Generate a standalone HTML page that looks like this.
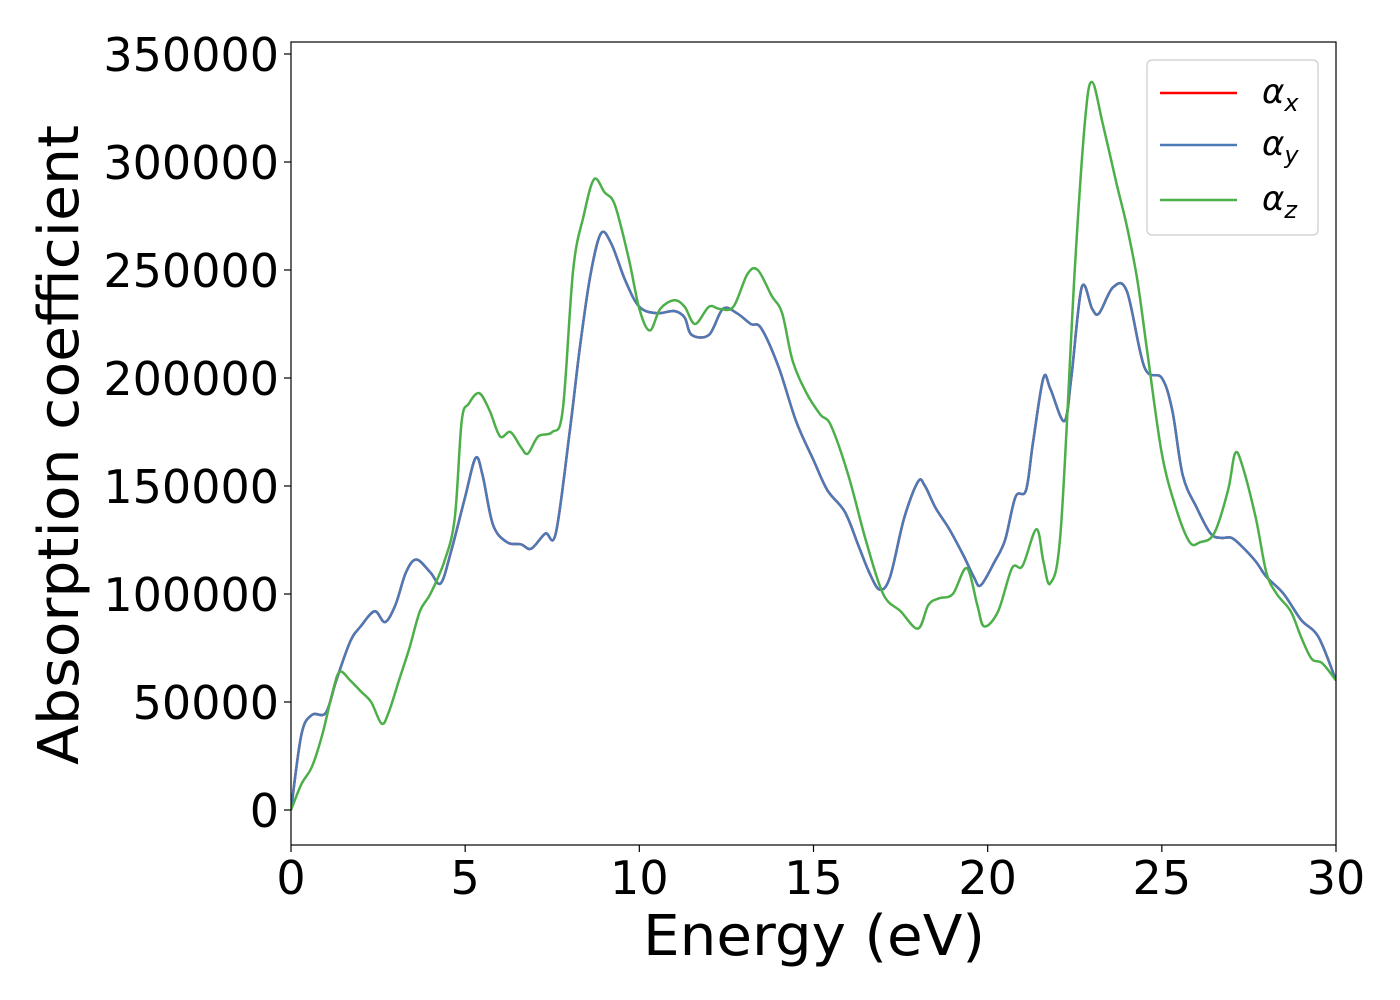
<!DOCTYPE html>
<html><head><meta charset="utf-8">
<style>
html,body{margin:0;padding:0;background:#fff;}
svg{display:block;font-family:"DejaVu Sans","Liberation Sans",sans-serif;}
</style></head>
<body>
<svg id="chart" width="1400" height="1000" viewBox="0 0 1400 1000">
<rect x="0" y="0" width="1400" height="1000" fill="#fff"/>
<g id="ticks"></g>
<g id="series"></g>
<rect x="291" y="42" width="1045" height="803" fill="none" stroke="#000" stroke-width="1.2"/>
<text x="814" y="955" font-size="56" text-anchor="middle" textLength="342" lengthAdjust="spacingAndGlyphs">Energy (eV)</text>
<text transform="translate(78,445) rotate(-90)" font-size="56" text-anchor="middle" textLength="640" lengthAdjust="spacingAndGlyphs">Absorption coefficient</text>
<g>
<rect x="1147" y="60" width="171" height="175" rx="5" fill="#fff" stroke="#ccc" stroke-width="1.2"/>
<line x1="1160" y1="93" x2="1237" y2="93" stroke="#ff0000" stroke-width="2.5"/>
<text x="1262" y="103" font-size="34" font-style="italic">α<tspan font-size="24" dy="8">x</tspan></text>
<line x1="1160" y1="145" x2="1237" y2="145" stroke="#4a7bb7" stroke-width="2.5"/>
<text x="1262" y="155" font-size="34" font-style="italic">α<tspan font-size="24" dy="8">y</tspan></text>
<line x1="1160" y1="200" x2="1237" y2="200" stroke="#4daf4a" stroke-width="2.5"/>
<text x="1262" y="210" font-size="34" font-style="italic">α<tspan font-size="24" dy="8">z</tspan></text>
</g>
</svg>
<script>
const xTicks=[0,5,10,15,20,25,30];
const yTicks=[0,50000,100000,150000,200000,250000,300000,350000];
const energyXY=[0,0.3,0.6,1.0,1.3,1.7,2.0,2.4,2.7,3.0,3.3,3.6,4.0,4.3,4.6,5.0,5.3,5.5,5.8,6.2,6.6,6.9,7.3,7.6,8.0,8.3,8.6,8.9,9.2,9.6,10.0,10.5,11.0,11.3,11.5,12.0,12.4,12.8,13.2,13.5,14.0,14.5,15.0,15.4,15.9,16.3,16.6,16.9,17.2,17.6,18.0,18.2,18.5,18.9,19.3,19.6,19.8,20.2,20.5,20.8,21.1,21.3,21.6,21.8,22.2,22.4,22.7,23.0,23.2,23.6,24.0,24.5,25.0,25.3,25.6,26.0,26.4,26.7,27.0,27.3,27.7,28.0,28.5,29.0,29.5,30.0];
const alphaY=[0,35000,44000,45000,60000,78000,85000,92000,87000,95000,110000,116000,110000,105000,120000,145000,163000,155000,132000,124000,123000,121000,128000,128000,175000,215000,248000,267000,262000,245000,233000,230000,231000,228000,220000,220000,232000,230000,225000,223000,205000,180000,162000,148000,138000,122000,110000,102000,108000,135000,152000,150000,140000,130000,118000,108000,104000,115000,125000,145000,148000,170000,200000,195000,180000,200000,242000,232000,230000,242000,240000,205000,200000,185000,155000,140000,128000,126000,126000,122000,115000,108000,100000,88000,80000,60000];
const alphaX=alphaY.slice();
const energyZ=[0,0.3,0.6,0.9,1.2,1.4,1.7,2.0,2.3,2.6,2.8,3.1,3.4,3.7,4.0,4.4,4.7,4.9,5.1,5.4,5.7,6.0,6.3,6.6,6.8,7.1,7.5,7.8,8.1,8.4,8.7,9.0,9.3,9.7,10.0,10.3,10.6,11.0,11.3,11.6,12.0,12.3,12.7,13.1,13.4,13.8,14.1,14.4,14.8,15.2,15.5,16.0,16.5,17.0,17.5,18.0,18.3,18.6,19.0,19.4,19.7,19.9,20.3,20.7,21.0,21.4,21.6,21.8,22.1,22.5,22.8,23.0,23.3,23.7,24.0,24.3,24.6,25.0,25.4,25.8,26.1,26.5,26.9,27.1,27.3,27.7,28.0,28.3,28.7,29.0,29.3,29.6,30.0];
const alphaZ=[0,12000,20000,35000,55000,64000,60000,55000,50000,40000,45000,60000,75000,92000,100000,115000,135000,180000,188000,193000,185000,173000,175000,168000,165000,173000,175000,185000,250000,275000,292000,286000,280000,255000,232000,222000,232000,236000,233000,225000,233000,232000,233000,248000,250000,238000,230000,208000,193000,183000,178000,155000,125000,100000,92000,84000,95000,98000,100000,112000,95000,85000,92000,112000,113000,130000,115000,105000,130000,250000,320000,337000,318000,290000,270000,245000,210000,165000,140000,124000,124000,128000,148000,165000,160000,135000,110000,100000,92000,80000,70000,68000,60000];

const NS="http://www.w3.org/2000/svg";
const sx=v=>291+v*(1045/30);
const sy=v=>810-v*(756/350000);
const tg=document.getElementById('ticks');
function mk(tag,attrs,parent){const e=document.createElementNS(NS,tag);for(const k in attrs)e.setAttribute(k,attrs[k]);parent.appendChild(e);return e;}
xTicks.forEach(t=>{
  const l=mk('line',{x1:sx(t),x2:sx(t),y1:845,y2:852,stroke:'#000','stroke-width':1.2},tg);
  
  
  const s=mk('text',{x:sx(t),y:894,'font-size':46,'text-anchor':'middle'},tg);
  s.textContent=t;
  
  
});
yTicks.forEach(t=>{
  const l=mk('line',{x1:284,x2:291,y1:sy(t),y2:sy(t),stroke:'#000','stroke-width':1.2},tg);
  
  
  const s=mk('text',{x:279,y:sy(t)+17,'font-size':46,'text-anchor':'end'},tg);
  s.textContent=t;
  
  
});
function pathD(xs,ys){
  const p=xs.map((x,i)=>[sx(x),sy(ys[i])]);
  let d='M'+p[0][0]+','+p[0][1];
  for(let i=0;i<p.length-1;i++){
    const p0=p[Math.max(0,i-1)],p1=p[i],p2=p[i+1],p3=p[Math.min(p.length-1,i+2)];
    const c1=[p1[0]+(p2[0]-p0[0])/6,p1[1]+(p2[1]-p0[1])/6];
    const c2=[p2[0]-(p3[0]-p1[0])/6,p2[1]-(p3[1]-p1[1])/6];
    d+=' C'+c1[0]+','+c1[1]+' '+c2[0]+','+c2[1]+' '+p2[0]+','+p2[1];
  }
  return d;
}
const sg=document.getElementById('series');
const clip=mk('clipPath',{id:'pc'},sg);mk('rect',{x:291,y:42,width:1045,height:803},clip);
const rx=mk('path',{d:pathD(energyXY,alphaX),fill:'none',stroke:'#ff0000','stroke-width':2.5,'clip-path':'url(#pc)'},sg);


const by=mk('path',{d:pathD(energyXY,alphaY),fill:'none',stroke:'#4a7bb7','stroke-width':2.5,'clip-path':'url(#pc)'},sg);


const gz=mk('path',{d:pathD(energyZ,alphaZ),fill:'none',stroke:'#4daf4a','stroke-width':2.5,'clip-path':'url(#pc)'},sg);


</script>
</body></html>
